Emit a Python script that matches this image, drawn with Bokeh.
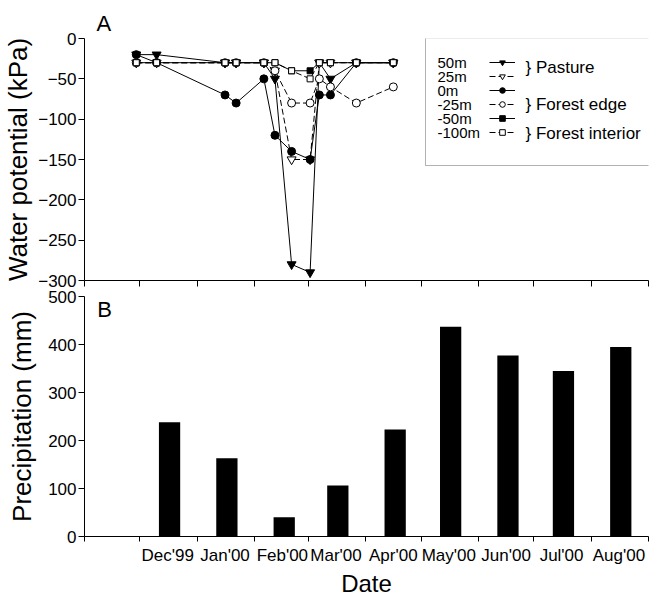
import pandas as pd
from bokeh.plotting import figure
from bokeh.models import (Range1d, FixedTicker, Legend, LegendItem, Label,
                          BoxAnnotation)
from bokeh.layouts import column
from bokeh.embed import file_html
from bokeh.resources import INLINE

FONT = "Liberation Sans"

# ---------------- data ----------------
axis_start = "1999-11-01"
axis_end = "2000-09-01"

sample_dates = ["1999-11-29", "1999-12-10", "2000-01-16", "2000-01-22",
                "2000-02-06", "2000-02-12", "2000-02-21", "2000-03-02",
                "2000-03-07", "2000-03-13", "2000-03-27", "2000-04-16"]
wp_50m = [-20, -20, -30, -30, -30, -50, -280, -290, -30, -50, -30, -30]
wp_25m = [-30, -30, -30, -30, -30, -40, -150, -150, -30, -30, -30, -30]
wp_0m = [-20, -30, -70, -80, -50, -120, -140, -150, -70, -70, -30, -30]
wp_m25m = [-30, -30, -30, -30, -30, -40, -80, -80, -50, -60, -80, -60]
wp_m50m = [-30, -30, -30, -30, -30, -30, -40, -40, -30, -30, -30, -30]
wp_m100m = [-30, -30, -30, -30, -30, -30, -40, -50, -30, -30, -30, -30]

series_names = ["50m", "25m", "0m", "-25m", "-50m", "-100m"]
group_labels = ["} Pasture", "} Forest edge", "} Forest interior"]

precip_months = ["1999-12", "2000-01", "2000-02", "2000-03", "2000-04",
                 "2000-05", "2000-06", "2000-07", "2000-08"]
month_labels = ["Dec'99", "Jan'00", "Feb'00", "Mar'00", "Apr'00",
                "May'00", "Jun'00", "Jul'00", "Aug'00"]
precip_mm = [238, 163, 40, 106, 223, 437, 377, 345, 395]

wp_ticks = [-300, -250, -200, -150, -100, -50, 0]
precip_ticks = [0, 100, 200, 300, 400, 500]

# ---------------- helpers ----------------
START = pd.Timestamp(axis_start)


def day(d):
    return int((pd.Timestamp(d) - START).days)


month_starts = [day(d) for d in pd.date_range(axis_start, axis_end, freq="MS")]
x_end = day(axis_end)
sx = [day(d) for d in sample_dates]
bar_x = [day(m + "-01") + 16 for m in precip_months]
label_pos = [day(m + "-01") + 15 for m in precip_months]


def style_y_axis(ax, label, ticks, label_standoff):
    ax.ticker = FixedTicker(ticks=ticks, minor_ticks=[])
    ax.major_tick_out = 6
    ax.major_tick_in = 0
    ax.minor_tick_out = 0
    ax.minor_tick_in = 0
    ax.major_label_standoff = 2
    ax.major_label_text_font = FONT
    ax.major_label_text_font_size = "17px"
    ax.major_label_text_color = "black"
    ax.axis_label = label
    ax.axis_label_text_font = FONT
    ax.axis_label_text_font_size = "26px"
    ax.axis_label_text_font_style = "normal"
    ax.axis_label_text_color = "black"
    ax.axis_label_standoff = label_standoff
    ax.axis_line_color = "black"
    ax.major_tick_line_color = "black"


# ---------------- panel A ----------------
p1 = figure(width=651, height=300, x_range=Range1d(0, x_end),
            y_range=Range1d(-300, 0), output_backend="svg",
            toolbar_location=None, min_border_left=77, min_border_right=3,
            min_border_top=38, min_border_bottom=20)
p1.grid.visible = False
p1.outline_line_color = None
p1.background_fill_color = "white"
p1.border_fill_color = "white"

p1.title.text = "A"
p1.title.align = "left"
p1.title.offset = 12
p1.title.standoff = 5
p1.title.text_font = FONT
p1.title.text_font_size = "22px"
p1.title.text_font_style = "normal"
p1.title.text_color = "black"

styles = [
    dict(vals=wp_50m, dash="solid", marker="inverted_triangle", fill="black", size=9),
    dict(vals=wp_25m, dash="6 3", marker="inverted_triangle", fill="white", size=9),
    dict(vals=wp_0m, dash="solid", marker="circle", fill="black", size=8),
    dict(vals=wp_m25m, dash="6 3", marker="circle", fill="white", size=8),
    dict(vals=wp_m50m, dash="solid", marker="square", fill="black", size=6),
    dict(vals=wp_m100m, dash="6 3", marker="square", fill="white", size=6),
]

items = []
for name, st in zip(series_names, styles):
    rl = p1.line(sx, st["vals"], line_color="black", line_width=1,
                 line_dash=st["dash"])
    rs = p1.scatter(sx, st["vals"], marker=st["marker"], size=st["size"],
                    fill_color=st["fill"], line_color="black", line_width=1)
    items.append(LegendItem(label=" ", renderers=[rl, rs]))

ROW_H = 14
legend = Legend(items=items, location=(405, 141), label_standoff=0,
                glyph_width=26, glyph_height=ROW_H, label_height=ROW_H,
                label_width=0, spacing=0, padding=0, margin=0,
                background_fill_alpha=0, border_line_alpha=0,
                label_text_font=FONT, label_text_font_size="8px")
p1.add_layout(legend)

box = BoxAnnotation(left=341, right=568, top=242.5, bottom=115,
                    left_units="screen", right_units="screen",
                    top_units="screen", bottom_units="screen",
                    fill_alpha=0, line_color="black", line_width=1)
p1.add_layout(box)

first_row = 218.3
for i, name in enumerate(series_names):
    p1.add_layout(Label(x=353, y=first_row - ROW_H * i, x_units="screen",
                        y_units="screen", text=name, text_font=FONT,
                        text_font_size="15px", text_baseline="middle",
                        text_align="left", text_color="black"))

for txt, yy in zip(group_labels, [213.3, 176, 147]):
    p1.add_layout(Label(x=441, y=yy, x_units="screen", y_units="screen",
                        text=txt, text_font=FONT, text_font_size="17px",
                        text_baseline="middle", text_align="left",
                        text_color="black"))

style_y_axis(p1.yaxis[0], "Water potential (kPa)", wp_ticks, 2)

xa = p1.xaxis[0]
xa.ticker = FixedTicker(ticks=[], minor_ticks=month_starts)
xa.major_tick_out = 0
xa.major_tick_in = 0
xa.minor_tick_out = 6
xa.minor_tick_in = 0
xa.major_label_standoff = 0
xa.axis_line_color = "black"
xa.minor_tick_line_color = "black"

# ---------------- panel B ----------------
p2 = figure(width=651, height=319, x_range=p1.x_range,
            y_range=Range1d(0, 500), output_backend="svg",
            toolbar_location=None, min_border_left=77, min_border_right=3,
            min_border_top=16, min_border_bottom=62)
p2.margin = (-20, 0, 0, 0)
p2.grid.visible = False
p2.outline_line_color = None
p2.background_fill_color = "white"
p2.border_fill_alpha = 0

p2.vbar(x=bar_x, top=precip_mm, bottom=0, width=11.5, fill_color="black",
        line_color=None)

p2.add_layout(Label(x=20, y=227, x_units="screen", y_units="screen",
                    text="B", text_font=FONT, text_font_size="22px",
                    text_baseline="middle", text_align="center",
                    text_color="black"))

style_y_axis(p2.yaxis[0], "Precipitation (mm)", precip_ticks, 8)

xb = p2.xaxis[0]
xb.ticker = FixedTicker(ticks=label_pos, minor_ticks=month_starts)
xb.major_tick_out = 0
xb.major_tick_in = 0
xb.minor_tick_out = 5
xb.minor_tick_in = 0
xb.major_label_overrides = dict(zip(label_pos, month_labels))
xb.major_label_standoff = 4
xb.major_label_text_font = FONT
xb.major_label_text_font_size = "17px"
xb.major_label_text_color = "black"
xb.axis_label = "Date"
xb.axis_label_text_font = FONT
xb.axis_label_text_font_size = "24px"
xb.axis_label_text_font_style = "normal"
xb.axis_label_text_color = "black"
xb.axis_label_standoff = 2
xb.axis_line_color = "black"
xb.minor_tick_line_color = "black"

layout = column(p1, p2)
open("out.html", "w").write(file_html(layout, INLINE))
